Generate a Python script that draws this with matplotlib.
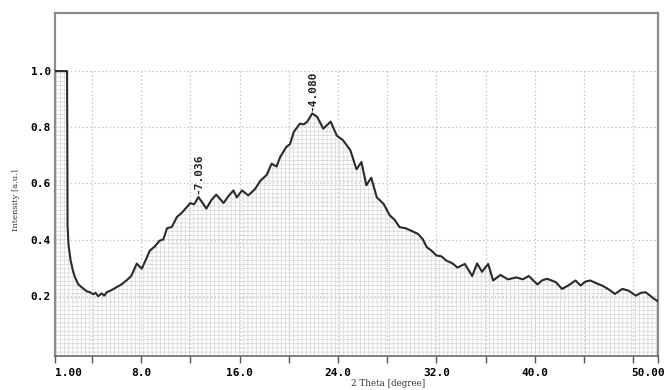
import matplotlib
matplotlib.use("Agg")
import matplotlib.pyplot as plt
import matplotlib.transforms as mtransforms

two_theta = [1.0, 1.98, 2.02, 2.1, 2.27, 2.45, 2.63, 2.9, 3.3, 3.6,
             3.85, 4.1, 4.3, 4.5, 4.8, 5.0, 5.2, 5.6, 6.0, 6.4,
             6.8, 7.2, 7.64, 8.05, 8.4, 8.7, 9.1, 9.5, 9.8, 10.1,
             10.5, 10.9, 11.3, 11.7, 12.0, 12.3, 12.65, 13.0, 13.3, 13.7,
             14.1, 14.4, 14.7, 15.1, 15.5, 15.77, 16.2, 16.7, 17.26, 17.7,
             18.2, 18.6, 19.0, 19.3, 19.8, 20.1, 20.4, 20.9, 21.2, 21.5,
             21.9, 22.3, 22.8, 23.4, 23.9, 24.4, 25.0, 25.5, 25.9, 26.3,
             26.7, 27.15, 27.7, 28.2, 28.6, 29.0, 29.5, 29.9, 30.5, 30.9,
             31.2, 31.6, 32.0, 32.4, 32.8, 33.3, 33.7, 34.3, 34.9, 35.3,
             35.7, 36.2, 36.6, 37.2, 37.8, 38.5, 39.0, 39.5, 40.2, 40.6,
             41.0, 41.7, 42.2, 42.7, 43.3, 43.7, 44.1, 44.5, 45.0, 45.5,
             46.0, 46.5, 47.1, 47.6, 48.2, 48.6, 49.0, 49.7, 50.0]
intensity = [1.0, 1.0, 0.45, 0.38, 0.325, 0.29, 0.265, 0.24, 0.225, 0.215,
             0.212, 0.205, 0.21, 0.198, 0.208, 0.2, 0.212, 0.22, 0.23, 0.24,
             0.254, 0.27, 0.314, 0.296, 0.33, 0.36, 0.375, 0.396, 0.40, 0.44,
             0.445, 0.48, 0.495, 0.515, 0.53, 0.525, 0.551, 0.53, 0.51, 0.54,
             0.56, 0.545, 0.53, 0.555, 0.575, 0.55, 0.575, 0.557, 0.58, 0.61,
             0.63, 0.67, 0.66, 0.694, 0.73, 0.74, 0.783, 0.813, 0.81, 0.82,
             0.849, 0.837, 0.795, 0.82, 0.77, 0.754, 0.718, 0.65, 0.676, 0.593,
             0.62, 0.55, 0.527, 0.486, 0.47, 0.444, 0.44, 0.432, 0.42, 0.40,
             0.373, 0.36, 0.343, 0.34, 0.325, 0.315, 0.30, 0.313, 0.27, 0.315,
             0.285, 0.313, 0.254, 0.274, 0.258, 0.265, 0.258, 0.27, 0.24, 0.255,
             0.26, 0.248, 0.224, 0.236, 0.254, 0.236, 0.25, 0.254, 0.244, 0.235,
             0.222, 0.206, 0.224, 0.218, 0.2, 0.21, 0.212, 0.188, 0.18]

peak_positions = [12.65, 21.9]
peak_values = [0.551, 0.849]
peak_labels = ["7.036", "4.080"]

x_label_ticks = [1, 8, 16, 24, 32, 40, 50]
x_tick_labels = ["1.00", "8.0", "16.0", "24.0", "32.0", "40.0", "50.00"]
x_grid = [4, 8, 12, 16, 20, 24, 28, 32, 36, 40, 44, 48]
y_ticks = [0.2, 0.4, 0.6, 0.8, 1.0]
y_tick_labels = ["0.2", "0.4", "0.6", "0.8", "1.0"]

plt.rcParams['hatch.color'] = '#d6d6d6'
plt.rcParams['hatch.linewidth'] = 0.5

fig = plt.figure(figsize=(6.66, 3.90), dpi=100)
ax = fig.add_axes([0.0826, 0.0872, 0.9054, 0.8795])
ymin, ymax = -0.015, 1.207
ax.set_xlim(1, 50)
ax.set_ylim(ymin, ymax)

# grid
ax.vlines(x_grid, ymin, 1.0, colors='#bcbcbc', linestyles=(0, (1, 2.5)), linewidth=0.8, zorder=1)
ax.hlines(y_ticks, 1, 50, colors='#bcbcbc', linestyles=(0, (1, 2.5)), linewidth=0.8, zorder=1)

ax.fill_between(two_theta, ymin, intensity, facecolor='white', edgecolor='#d6d6d6',
                hatch='++++', linewidth=0, zorder=2)
ax.vlines(x_grid, ymin, 1.0, colors='#c4c4c4', linestyles=(0, (1, 2.5)), linewidth=0.8, zorder=2.5)
ax.hlines(y_ticks, 1, 50, colors='#c4c4c4', linestyles=(0, (1, 2.5)), linewidth=0.8, zorder=2.5)
ax.plot(two_theta, intensity, color='#2a2a2a', linewidth=1.5, zorder=3)

mono = dict(family='DejaVu Sans Mono', weight='bold', size=8)
for px, py, lab in zip(peak_positions, peak_values, peak_labels):
    ax.annotate("-" + lab, xy=(px, py), xytext=(0, 2), textcoords='offset points',
                rotation=90, ha='center', va='bottom', color='#222222', **mono)

ax.set_xticks(x_label_ticks)
ax.set_xticklabels(x_tick_labels, **mono)
ax.set_xticks([4, 12, 20, 28, 36, 44, 48], minor=True)
ax.set_yticks(y_ticks)
ax.set_yticklabels(y_tick_labels, **mono)
ax.tick_params(axis='x', which='both', direction='out', length=5, width=1, color='#555555', pad=4)
ax.tick_params(axis='y', which='both', length=0, pad=3)

xl = ax.get_xticklabels()
xl[0].set_horizontalalignment('left')
xl[-1].set_transform(xl[-1].get_transform() + mtransforms.ScaledTranslation(-0.1, 0, fig.dpi_scale_trans))

for s in ax.spines.values():
    s.set_color('#8a8a8a')
    s.set_linewidth(1.6)
ax.spines['bottom'].set_color('#6a6a6a')
ax.spines['bottom'].set_linewidth(1.2)

fig.text(388 / 666, 1 - 384 / 390, "2 Theta [degree]", family='DejaVu Serif', size=6.3,
         ha='center', va='center', color='#333333')
fig.text(16 / 666, 1 - 200 / 390, "Intensity [a.u.]", family='DejaVu Serif', size=6,
         ha='center', va='center', rotation=90, color='#333333')

fig.savefig("out.png", dpi=100)
